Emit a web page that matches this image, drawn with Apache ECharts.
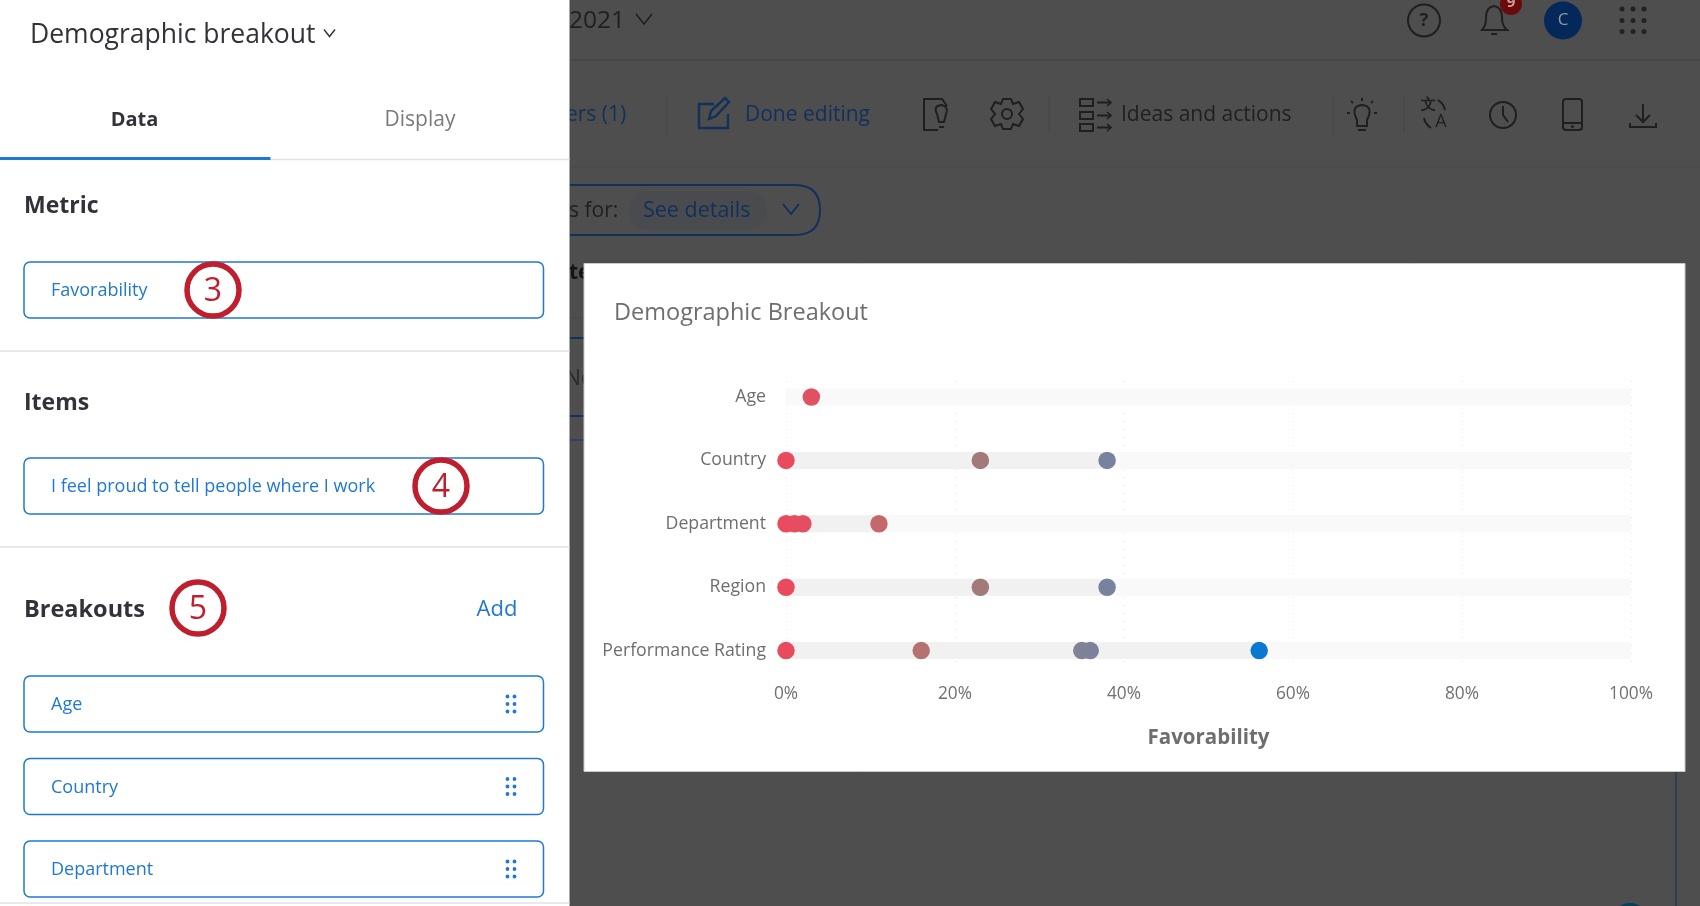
<!DOCTYPE html>
<html>
<head>
<meta charset="utf-8">
<title>Demographic Breakout</title>
<script src="https://cdn.jsdelivr.net/npm/echarts@6/dist/echarts.min.js"></script>
<style>
  html, body { margin: 0; padding: 0; background: #4e4e4e; overflow: hidden; }
  #chart { width: 1700px; height: 906px; }
</style>
</head>
<body>
<div id="chart"></div>
<script>
// 数据
const categories = ['Age', 'Country', 'Department', 'Region', 'Performance Rating'];
const ageValues = [3];
const countryValues = [0, 23, 38];
const departmentValues = [0, 1, 2, 11];
const regionValues = [0, 23, 38];
const performanceValues = [0, 16, 35, 36, 56];
const tickValues = { min: 0, max: 100, step: 20 };
const breakoutItems = ['Age', 'Country', 'Department'];

const rows = [ageValues, countryValues, departmentValues, regionValues, performanceValues];
const rangeStart = rows.map(r => Math.min(...r));
const rangeLength = rows.map(r => Math.max(...r) - Math.min(...r));
const fullBand = rows.map(() => tickValues.max);
const points = [];
rows.forEach((r, i) => r.forEach(v => points.push([v, categories[i]])));

const FONT = '"Open Sans", "Noto Sans", sans-serif';
const BLUE = '#1f78d1';
const RED = '#bf1e2e';
const DIM_TEXT = '#1f1f1f';
const DIM_BLUE = '#12305c';

// 画界面的小工具
const txt = (x, y, text, fill, size, extra = {}) => ({
  type: 'text', z: -1, x, y,
  style: { text, fill, font: `${extra.weight || 'normal'} ${size}px ${FONT}`, textAlign: extra.align || 'left', textVerticalAlign: 'middle' }
});
const rect = (x, y, width, height, fill, extra = {}) => ({
  type: 'rect', z: -1, shape: { x, y, width, height, r: extra.r || 0 },
  style: { fill, stroke: extra.stroke || null, lineWidth: extra.lineWidth || 0 }
});
const seg = (x1, y1, x2, y2, stroke, lineWidth = 1) => ({
  type: 'line', z: -1, shape: { x1, y1, x2, y2 }, style: { stroke, lineWidth }
});
const poly = (pts, stroke, lineWidth = 2) => ({
  type: 'polyline', z: -1, shape: { points: pts }, style: { stroke, lineWidth, fill: null }
});
const circ = (cx, cy, r, fill, stroke, lineWidth = 2) => ({
  type: 'circle', z: -1, shape: { cx, cy, r }, style: { fill: fill || 'transparent', stroke: stroke || null, lineWidth }
});
// graphic 组件没有 path 类型，图标要先注册成形状
let iconCount = 0;
const svg = (d, stroke, lineWidth = 2) => {
  const type = 'uiIcon' + iconCount++;
  echarts.graphic.registerShape(type, echarts.graphic.extendPath(d));
  return { type, z: -1, style: { stroke, lineWidth, fill: null } };
};
const chevron = (x, y, w, h, stroke, lineWidth) => poly([[x - w, y - h], [x, y + h], [x + w, y - h]], stroke, lineWidth);

// 被遮住的后台页面
const backdrop = [
  rect(0, 0, 1700, 906, '#4e4e4e'),
  seg(570, 60, 1700, 60, '#474747', 2),
  seg(570, 167, 1700, 167, '#484848', 1),
  seg(570, 318, 584, 318, '#474747', 1),
  txt(569, 21, '2021', DIM_TEXT, 24.5),
  chevron(644, 19, 8, 5, DIM_TEXT, 1.6),
  // 右上角
  circ(1424, 20.5, 16, null, DIM_TEXT, 2),
  txt(1424, 20.5, '?', DIM_TEXT, 18, { align: 'center', weight: 'bold' }),
  svg('M1482 30 Q1486 26 1486 18 Q1486 7 1494 6 Q1502 7 1502 18 Q1502 26 1507 30 Z M1491 34 L1497 34', DIM_TEXT, 2),
  circ(1511, 4, 11, '#6b0a0a'),
  txt(1511, 3, '9', '#c9a0a0', 15, { align: 'center', weight: 'bold' }),
  circ(1563, 20.5, 19, '#05285a'),
  txt(1563, 20.5, 'C', '#8c98a8', 17, { align: 'center' }),
  ...[1622, 1633, 1644].flatMap(x => [9, 20.5, 31.5].map(y => circ(x, y, 2.5, '#222222'))),
  // 工具栏
  txt(566, 115, 'ers (1)', DIM_BLUE, 21),
  seg(667, 95, 667, 133, '#474747'),
  svg('M714 104 L699 104 L699 128 L728 128 L728 114 M709 119 L711 111 L725 98 L729 102 L716 116 Z', DIM_BLUE, 2.4),
  txt(745, 115, 'Done editing', DIM_BLUE, 21),
  svg('M938 130 L924 130 L924 99 L942 99 L947 106 M937 114 Q933 106 941 105 Q949 106 946 114 L944 122 L939 122 Z M939 127 L944 127', DIM_TEXT, 2),
  circ(1007, 114, 5, null, DIM_TEXT, 2),
  svg('M1003 99 L1011 99 L1013 104 L1019 102 L1023 109 L1019 114 L1023 119 L1019 126 L1013 124 L1011 129 L1003 129 L1001 124 L995 126 L991 119 L995 114 L991 109 L995 102 L1001 104 Z', DIM_TEXT, 2),
  seg(1049, 95, 1049, 133, '#474747'),
  ...[99, 112, 124].flatMap(y => [
    { type: 'rect', z: -1, shape: { x: 1080, y, width: 13, height: 7 }, style: { stroke: DIM_TEXT, lineWidth: 2, fill: null } },
    poly([[1097, y + 3.5], [1111, y + 3.5]], DIM_TEXT, 2),
    poly([[1107, y], [1111, y + 3.5], [1107, y + 7]], DIM_TEXT, 1.6)
  ]),
  txt(1121, 115, 'Ideas and actions', DIM_TEXT, 21),
  seg(1333, 95, 1333, 133, '#474747'),
  svg('M1357 120 Q1350 106 1362 105 Q1374 106 1367 120 L1367 126 L1357 126 Z M1358 130 L1366 130 M1350 113 L1347 113 M1377 113 L1374 113 M1362 101 L1362 98 M1353 103 L1351 101 M1371 103 L1373 101', DIM_TEXT, 2),
  seg(1404, 95, 1404, 133, '#474747'),
  txt(1428, 105, '文', DIM_TEXT, 15, { align: 'center', weight: 'bold' }),
  txt(1441, 122, 'A', DIM_TEXT, 18, { align: 'center' }),
  svg('M1438 100 Q1444 104 1445 110 M1424 118 Q1425 124 1431 128', DIM_TEXT, 2),
  circ(1503, 115, 13, null, DIM_TEXT, 2),
  poly([[1503, 106], [1503, 115], [1508, 122]], DIM_TEXT, 2),
  { type: 'rect', z: -1, shape: { x: 1563, y: 99, width: 19, height: 31, r: 3 }, style: { stroke: DIM_TEXT, lineWidth: 2, fill: null } },
  seg(1563, 123, 1582, 123, DIM_TEXT, 2),
  circ(1572.5, 126.5, 1.5, DIM_TEXT),
  svg('M1643 104 L1643 121 M1636 115 L1643 122 L1650 115 M1630 123 L1630 127 L1656 127 L1656 123', DIM_TEXT, 2),
  // 筛选条
  svg('M570 185 L795 185 Q820 185 820 210 Q820 235 795 235 L570 235', DIM_BLUE, 2),
  txt(569, 211, 's for:', DIM_TEXT, 21),
  rect(629, 191, 138, 39, '#494b4e', { r: 19 }),
  txt(643, 211, 'See details', DIM_BLUE, 21.5),
  chevron(791, 209, 8, 5, DIM_BLUE, 2),
  // 表格露出来的一点
  txt(569, 273, 'te', '#141414', 21, { weight: 'bold' }),
  txt(565, 379, 'No', '#2a2a2a', 21),
  seg(570, 338, 584, 338, DIM_BLUE, 2),
  seg(570, 416, 584, 416, DIM_BLUE, 2),
  seg(570, 440, 584, 440, '#33425a', 2),
  seg(1676, 771, 1676, 906, '#2e3e55', 2),
  circ(1630, 922, 19, '#06405c')
];

// 白色卡片
const card = [rect(584, 263.5, 1101, 508, '#ffffff', { stroke: '#c8c8c8', lineWidth: 1 })];

// 左侧面板
const itemBox = (y, label) => [
  rect(24, y, 519.5, 56, '#ffffff', { stroke: BLUE, lineWidth: 1.5, r: 6 }),
  txt(51, y + 29, label, BLUE, 18)
];
const grip = y => [507.5, 514.5].flatMap(x => [y - 7.5, y, y + 7.5].map(cy => circ(x, cy, 1.9, BLUE)));
const marker = (cx, cy, label) => [
  circ(cx, cy, 26, '#ffffff', RED, 5.5),
  txt(cx, cy + 2, label, RED, 32, { align: 'center' })
];
const panel = [
  rect(0, 0, 569.5, 906, '#ffffff'),
  txt(30, 35, 'Demographic breakout', '#32323a', 26.5),
  chevron(329.5, 33, 5.5, 3.5, '#32323a', 1.4),
  txt(134.5, 120, 'Data', '#32323a', 20, { align: 'center', weight: 'bold' }),
  txt(420, 120, 'Display', '#7a7a7a', 21, { align: 'center' }),
  seg(0, 159.5, 569.5, 159.5, '#e2e2e2', 1.5),
  rect(0, 157, 270.5, 3, BLUE),
  txt(24, 206.5, 'Metric', '#32323a', 23, { weight: 'bold' }),
  ...itemBox(262, 'Favorability'),
  ...marker(213, 290, '3'),
  seg(0, 351, 569.5, 351, '#e2e2e2', 1.5),
  txt(24, 403.5, 'Items', '#32323a', 23, { weight: 'bold' }),
  ...itemBox(458, 'I feel proud to tell people where I work'),
  ...marker(441, 486, '4'),
  seg(0, 547, 569.5, 547, '#e2e2e2', 1.5),
  txt(24, 610.5, 'Breakouts', '#32323a', 23.5, { weight: 'bold' }),
  ...marker(198, 608, '5'),
  txt(497, 609.5, 'Add', BLUE, 22, { align: 'center' }),
  ...breakoutItems.flatMap((label, i) => [...itemBox(676 + i * 82.5, label), ...grip(704 + i * 82.5)]),
  seg(0, 903, 569.5, 903, '#e2e2e2', 1.5)
];

const chart = echarts.init(document.getElementById('chart'));
chart.setOption({
  animation: false,
  textStyle: { fontFamily: FONT },
  title: {
    text: 'Demographic Breakout', left: 609, top: 296,
    textStyle: { fontSize: 23.5, fontWeight: 'normal', color: '#6e6e6e', fontFamily: FONT }
  },
  graphic: { elements: [...backdrop, ...card, ...panel] },
  // 第一个 grid 只画刻度和竖线，第二个画数据
  grid: [
    { left: 786, width: 845, top: 381, height: 286 },
    { left: 786, width: 845, top: 365.3, height: 317 }
  ],
  xAxis: [
    {
      type: 'value', gridIndex: 0, min: tickValues.min, max: tickValues.max, interval: tickValues.step,
      name: 'Favorability', nameLocation: 'middle', nameGap: 61,
      nameTextStyle: { fontSize: 20.5, fontWeight: 'bold', color: '#6e6e6e', fontFamily: FONT },
      axisLine: { show: false }, axisTick: { show: false },
      axisLabel: { formatter: '{value}%', fontSize: 17.3, color: '#707070', margin: 19, fontFamily: FONT },
      splitLine: { show: true, lineStyle: { color: '#e4e4e4', width: 1, type: [1, 7] } }
    },
    { type: 'value', gridIndex: 1, min: tickValues.min, max: tickValues.max, show: false }
  ],
  yAxis: [
    { type: 'value', gridIndex: 0, min: 0, max: 1, show: false },
    {
      type: 'category', gridIndex: 1, data: categories, inverse: true,
      axisLine: { show: false }, axisTick: { show: false },
      axisLabel: { fontSize: 17.7, color: '#6e6e6e', margin: 20, padding: [2, 0, 0, 0], fontFamily: FONT }
    }
  ],
  visualMap: {
    show: false, type: 'continuous', seriesIndex: 3, dimension: 0, min: 0, max: 56,
    inRange: { color: ['#ea4a5e', '#b9706f', '#93807f', '#6c84ab', '#0a78d2'] }
  },
  series: [
    {
      name: 'band', type: 'bar', xAxisIndex: 1, yAxisIndex: 1, data: fullBand,
      barWidth: 17, barGap: '-100%', silent: true, itemStyle: { color: '#f9f9f9' }
    },
    {
      name: 'rangeStart', type: 'bar', stack: 'range', xAxisIndex: 1, yAxisIndex: 1, data: rangeStart,
      barWidth: 17, silent: true, itemStyle: { color: 'transparent' }
    },
    {
      name: 'range', type: 'bar', stack: 'range', xAxisIndex: 1, yAxisIndex: 1, data: rangeLength,
      barWidth: 17, silent: true, itemStyle: { color: '#f1f1f1' }
    },
    {
      name: 'Favorability', type: 'scatter', xAxisIndex: 1, yAxisIndex: 1, data: points,
      symbolSize: 17.5, z: 5, clip: false, itemStyle: { opacity: 1 }
    }
  ]
});
</script>
</body>
</html>
